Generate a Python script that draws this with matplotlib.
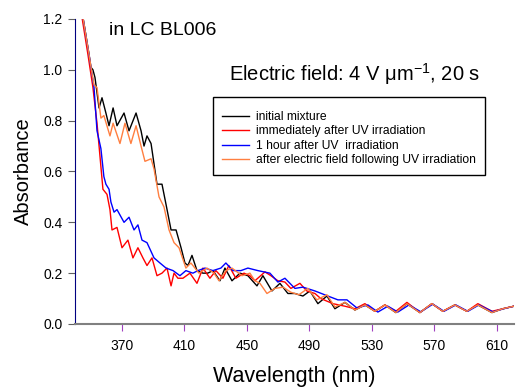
import matplotlib
matplotlib.use("Agg")
import matplotlib.pyplot as plt
from matplotlib.patches import Rectangle

plt.rcParams['font.family'] = ['Liberation Sans', 'DejaVu Sans']
plt.rcParams['mathtext.fontset'] = 'custom'
plt.rcParams['mathtext.rm'] = 'Liberation Sans'
plt.rcParams['mathtext.it'] = 'Liberation Sans:italic'
plt.rcParams['mathtext.bf'] = 'Liberation Sans:bold'

# ---- data (digitised vertices) ----
wl_black = [345.0, 349.0, 350.2, 351.5, 352.8, 354.1, 355.4, 357.3, 359.8, 361.8, 364.4, 366.9,
            371.4, 374.6, 379.1, 382.3, 384.2, 386.1, 388.7, 390.6, 392.5, 395.7, 398.3, 401.5,
            404.7, 407.9, 410.4, 412.3, 414.9, 418.1, 421.9, 425.0, 428.3, 432.8, 436.0, 440.5,
            445.6, 450.7, 456.5, 460.3, 466.1, 471.2, 476.3, 480.8, 485.9, 490.4, 495.5, 501.3,
            506.4, 512.8, 519.2, 525.6, 532.0, 538.4, 545.4, 552.5, 560.8, 568.5, 575.5, 583.2,
            590.9, 597.9, 606.9, 613.9, 621.0]
abs_black = [1.21, 1.06, 1.01, 1.00, 0.97, 0.91, 0.85, 0.89, 0.83, 0.78, 0.85, 0.78,
             0.83, 0.76, 0.83, 0.76, 0.70, 0.74, 0.71, 0.63, 0.55, 0.55, 0.47, 0.37,
             0.37, 0.30, 0.24, 0.23, 0.27, 0.21, 0.20, 0.20, 0.21, 0.17, 0.22, 0.17,
             0.20, 0.19, 0.15, 0.19, 0.13, 0.16, 0.12, 0.12, 0.11, 0.13, 0.08, 0.11,
             0.06, 0.085, 0.055, 0.075, 0.05, 0.075, 0.045, 0.08, 0.045, 0.08, 0.05, 0.075,
             0.05, 0.075, 0.045, 0.06, 0.07]

wl_red = [344.4, 348.3, 351.5, 354.1, 356.0, 357.9, 360.5, 362.4, 363.7, 366.9, 370.1, 373.9,
          377.1, 380.3, 383.5, 386.1, 389.3, 392.5, 395.7, 398.9, 401.5, 403.4, 405.9, 409.1,
          413.6, 418.1, 421.9, 426.4, 430.2, 434.7, 438.5, 443.0, 448.2, 452.0, 455.2, 461.6,
          465.4, 469.9, 474.4, 478.2, 484.0, 488.4, 493.6, 497.4, 505.1, 512.8, 519.2, 525.6,
          532.0, 538.4, 545.4, 552.5, 560.8, 568.5, 575.5, 583.2, 590.9, 597.9, 606.9, 613.9,
          621.0]
abs_red = [1.21, 1.06, 0.93, 0.79, 0.66, 0.53, 0.51, 0.45, 0.37, 0.38, 0.30, 0.33,
           0.26, 0.30, 0.26, 0.23, 0.26, 0.19, 0.20, 0.22, 0.15, 0.20, 0.18, 0.18,
           0.20, 0.16, 0.22, 0.18, 0.21, 0.18, 0.23, 0.18, 0.20, 0.19, 0.17, 0.205,
           0.19, 0.17, 0.165, 0.14, 0.16, 0.13, 0.12, 0.10, 0.08, 0.07, 0.06, 0.08,
           0.05, 0.075, 0.05, 0.085, 0.045, 0.08, 0.05, 0.075, 0.05, 0.08, 0.05, 0.06,
           0.07]

wl_blue = [345.0, 349.0, 352.2, 354.1, 356.6, 358.5, 359.8, 361.8, 363.0, 365.0, 366.9, 371.4,
           374.6, 377.8, 380.3, 382.9, 386.1, 390.6, 394.4, 398.3, 402.8, 407.2, 411.0, 415.5,
           418.7, 423.2, 428.3, 433.4, 436.6, 441.1, 446.2, 450.7, 457.1, 464.8, 469.9, 474.4,
           480.8, 485.9, 493.6, 501.9, 508.3, 514.1, 520.5, 527.5, 533.9, 540.3, 546.7, 553.8,
           561.4, 569.1, 576.2, 583.8, 591.5, 598.6, 607.5, 614.5, 621.0]
abs_blue = [1.21, 1.06, 0.93, 0.76, 0.69, 0.58, 0.55, 0.53, 0.48, 0.44, 0.45, 0.40,
            0.42, 0.37, 0.39, 0.33, 0.32, 0.26, 0.24, 0.22, 0.21, 0.19, 0.21, 0.20,
            0.21, 0.22, 0.21, 0.22, 0.24, 0.21, 0.21, 0.22, 0.21, 0.20, 0.165, 0.18,
            0.14, 0.145, 0.13, 0.11, 0.095, 0.095, 0.063, 0.075, 0.047, 0.07, 0.047, 0.075,
            0.048, 0.078, 0.05, 0.075, 0.05, 0.075, 0.048, 0.06, 0.07]

wl_orange = [345.0, 349.0, 350.8, 352.2, 354.1, 356.6, 358.5, 362.4, 364.4, 368.8, 372.0, 375.8,
             379.1, 382.3, 384.8, 388.7, 390.6, 393.8, 397.0, 400.2, 403.4, 406.6, 411.0, 414.2,
             418.1, 419.4, 424.5, 429.0, 432.2, 436.6, 440.5, 446.9, 452.0, 455.2, 458.4, 462.9,
             468.0, 473.2, 478.2, 483.3, 489.1, 494.8, 501.3, 506.4, 512.8, 519.2, 525.6, 532.0,
             538.4, 545.4, 552.5, 560.8, 568.5, 575.5, 583.2, 590.9, 597.9, 606.9, 613.9, 621.0]
abs_orange = [1.21, 1.06, 0.99, 0.94, 0.93, 0.81, 0.82, 0.74, 0.79, 0.71, 0.79, 0.71,
              0.78, 0.70, 0.64, 0.65, 0.61, 0.50, 0.46, 0.37, 0.32, 0.30, 0.22, 0.24,
              0.21, 0.20, 0.22, 0.20, 0.17, 0.21, 0.22, 0.19, 0.20, 0.17, 0.16, 0.12,
              0.14, 0.145, 0.125, 0.115, 0.14, 0.095, 0.115, 0.067, 0.085, 0.055, 0.075, 0.05,
              0.075, 0.045, 0.08, 0.045, 0.08, 0.05, 0.075, 0.05, 0.075, 0.045, 0.06, 0.07]

labels = ["initial mixture", "immediately after UV irradiation",
          "1 hour after UV  irradiation", "after electric field following UV irradiation"]
x_ticks = [370, 410, 450, 490, 530, 570, 610]
y_ticks = [0.0, 0.2, 0.4, 0.6, 0.8, 1.0, 1.2]

# ---- figure ----
fig = plt.figure(figsize=(5.16, 3.87), dpi=100)
ax = fig.add_axes([0.1453, 0.1628, 0.8507, 0.7882])

ax.plot(wl_black, abs_black, color='black', lw=1.0, label=labels[0])
ax.plot(wl_red, abs_red, color='#ff0000', lw=1.0, label=labels[1])
ax.plot(wl_blue, abs_blue, color='#0000ff', lw=1.0, label=labels[2])
ax.plot(wl_orange, abs_orange, color='#ff7f40', lw=1.0, label=labels[3])

ax.set_xlim(340, 621)
ax.set_ylim(0, 1.2)
ax.set_xticks(x_ticks)
ax.set_yticks(y_ticks)
ax.set_yticklabels([f"{v:.1f}" for v in y_ticks])

for s in ['top', 'right']:
    ax.spines[s].set_visible(False)
ax.spines['left'].set_color('#000080')
ax.spines['bottom'].set_color('#808080')
ax.spines['bottom'].set_linewidth(1.5)
ax.tick_params(axis='x', direction='out', length=5, color='#a040c0', labelsize=10, pad=6)
ax.tick_params(axis='y', direction='out', length=5, color='#606060', labelsize=10, pad=4)

ax.set_xlabel("Wavelength (nm)", fontsize=15.5, labelpad=9)
ax.set_ylabel("Absorbance", fontsize=14.5, labelpad=7)

ax.text(0.077, 0.99, "in LC BL006", transform=ax.transAxes, fontsize=14, va='top', ha='left')
ax.text(0.352, 0.82, "Electric field: 4 V \u03bcm$^{-1}$, 20 s", transform=ax.transAxes,
        fontsize=14.5, va='center', ha='left')

# legend (frame drawn as a separate box, taller than the default padding)
leg = ax.legend(loc='upper left', bbox_to_anchor=(0.314, 0.728), fontsize=8.7, frameon=False,
                handlelength=2.25, handletextpad=0.6, borderpad=0.75,
                labelspacing=0.2, borderaxespad=0)
ax.add_patch(Rectangle((0.314, 0.4885), 0.620, 0.2555, transform=ax.transAxes,
                       fill=False, edgecolor='black', lw=1.0, zorder=5, clip_on=False))

fig.savefig("out.png", dpi=100)
